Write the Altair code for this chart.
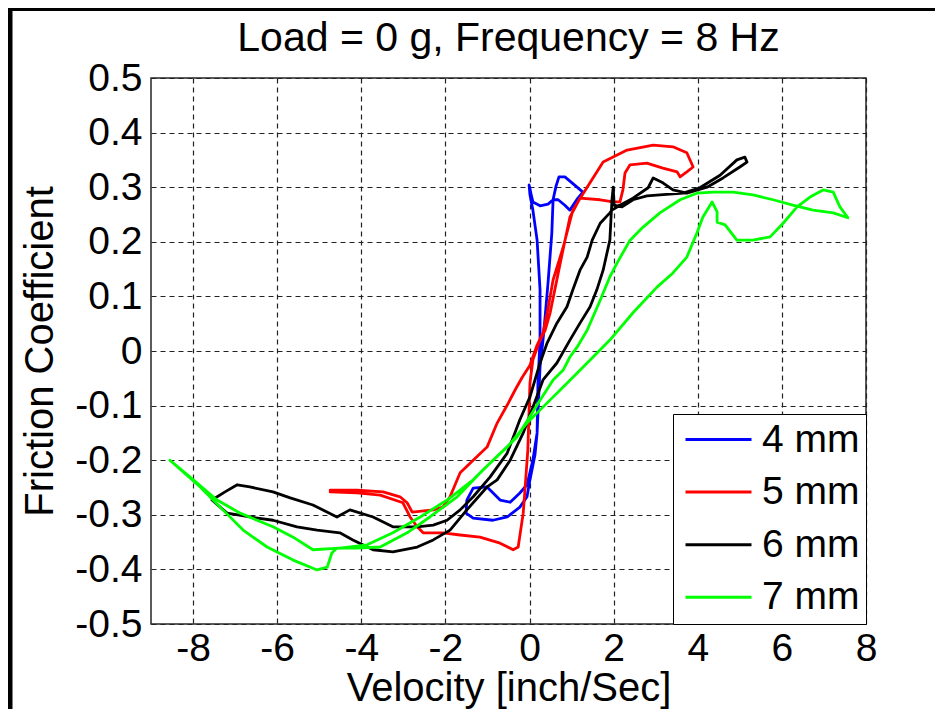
import altair as alt
import pandas as pd

series_names = ["4 mm", "5 mm", "6 mm", "7 mm"]
series_colors = ["#0000ff", "#ff0000", "#000000", "#00ff00"]

x_ticks = [-8, -6, -4, -2, 0, 2, 4, 6, 8]
y_ticks = [-0.5, -0.4, -0.3, -0.2, -0.1, 0, 0.1, 0.2, 0.3, 0.4, 0.5]

# 4 mm (blue)
v_4mm = [1.27, 1.01, 0.84, 0.70, 0.63, 0.56, 0.53, 0.44, 0.37, 0.32, 0.25, 0.18, 0.13, 0.01,
         -0.06, -0.23, -0.53, -0.87, -1.34, -1.51, -1.49, -1.34, -1.01, -0.70, -0.46, -0.23,
         -0.06, 0.08, 0.18, 0.20, 0.25, 0.25, 0.18, 0.08, 0.01, -0.01, 0.04, 0.08, 0.25, 0.44,
         0.56, 0.68, 0.84, 0.96, 1.15, 1.27]
mu_4mm = [0.291, 0.308, 0.319, 0.319, 0.302, 0.277, 0.216, 0.125, 0.062, 0.020, -0.029, -0.150,
          -0.190, -0.236, -0.267, -0.286, -0.304, -0.310, -0.306, -0.297, -0.273, -0.251, -0.249,
          -0.273, -0.277, -0.260, -0.245, -0.200, -0.150, -0.059, 0.020, 0.112, 0.203, 0.258,
          0.286, 0.304, 0.286, 0.273, 0.266, 0.269, 0.277, 0.277, 0.267, 0.258, 0.280, 0.291]

# 5 mm (red)
v_5mm = [-4.74, -4.10, -3.48, -3.08, -2.91, -2.79, -2.29, -2.06, -1.89, -1.65, -1.34, -1.01,
         -0.77, -0.53, -0.34, -0.18, 0.01, 0.18, 0.32, 0.42, 0.56, 0.80, 1.03, 1.37, 1.75, 2.32,
         2.94, 3.41, 3.74, 3.89, 3.74, 3.58, 3.51, 3.17, 2.79, 2.39, 2.27, 2.22, 2.15, 1.99,
         1.68, 1.20, 0.96, 0.73, 0.49, 0.37, 0.25, 0.08, 0.01, -0.04, -0.11, -0.15, -0.27,
         -0.39, -0.70, -1.18, -1.65, -2.06, -2.53, -2.67, -2.84, -3.01, -3.55, -4.10, -4.74]
mu_5mm = [-0.255, -0.255, -0.258, -0.267, -0.278, -0.295, -0.291, -0.286, -0.267, -0.223, -0.200,
          -0.176, -0.132, -0.099, -0.071, -0.049, -0.026, 0.011, 0.033, 0.070, 0.130, 0.190,
          0.258, 0.300, 0.346, 0.368, 0.377, 0.374, 0.363, 0.337, 0.328, 0.319, 0.328, 0.335,
          0.344, 0.341, 0.326, 0.295, 0.273, 0.273, 0.277, 0.280, 0.245, 0.161, 0.070, 0.038,
          0.020, -0.016, -0.059, -0.181, -0.255, -0.297, -0.359, -0.364, -0.352, -0.341, -0.337,
          -0.333, -0.333, -0.322, -0.304, -0.278, -0.264, -0.260, -0.258]

# 6 mm (black)
v_6mm = [5.17, 5.00, 4.60, 4.22, 3.74, 3.41, 3.17, 2.94, 2.82, 2.46, 2.15, 1.96, 1.91, 1.68,
         1.49, 1.37, 1.20, 1.03, 0.89, 0.65, 0.42, 0.25, 0.01, -0.23, -0.53, -0.94, -1.34,
         -1.65, -1.96, -2.29, -2.67, -3.25, -3.72, -4.27, -4.58, -5.15, -5.69, -6.10, -6.65,
         -6.95, -7.24, -7.55, -7.19, -6.65, -6.10, -5.53, -5.05, -4.51, -4.20, -3.72, -3.25,
         -2.67, -2.29, -1.89, -1.49, -1.01, -0.77, -0.46, -0.15, 0.08, 0.32, 0.65, 0.96, 1.20,
         1.44, 1.60, 1.75, 1.91, 1.96, 1.99, 2.01, 2.20, 2.46, 2.79, 3.10, 3.65, 4.05, 4.53,
         4.93, 5.12, 5.17]
mu_6mm = [0.346, 0.337, 0.317, 0.300, 0.289, 0.295, 0.308, 0.317, 0.299, 0.280, 0.267, 0.258,
          0.253, 0.234, 0.203, 0.172, 0.148, 0.112, 0.081, 0.051, 0.015, -0.022, -0.084, -0.126,
          -0.187, -0.231, -0.267, -0.291, -0.310, -0.319, -0.322, -0.322, -0.304, -0.291, -0.304,
          -0.282, -0.269, -0.258, -0.249, -0.245, -0.258, -0.273, -0.297, -0.304, -0.310, -0.322,
          -0.328, -0.333, -0.346, -0.364, -0.368, -0.359, -0.346, -0.328, -0.291, -0.249, -0.236,
          -0.200, -0.150, -0.103, -0.053, -0.022, 0.020, 0.051, 0.081, 0.112, 0.148, 0.203,
          0.277, 0.300, 0.267, 0.264, 0.277, 0.284, 0.286, 0.289, 0.299, 0.322, 0.350, 0.355,
          0.346]

# 7 mm (green)
v_7mm = [-8.55, -7.83, -7.29, -6.81, -6.24, -5.62, -5.05, -4.81, -4.70, -4.58, -4.10, -3.55,
         -2.91, -2.37, -1.72, -1.11, -0.53, -0.06, 0.42, 0.89, 1.37, 1.91, 2.46, 3.03, 3.41,
         3.74, 3.98, 4.12, 4.34, 4.46, 4.46, 4.65, 4.93, 5.31, 5.72, 6.03, 6.36, 6.67, 6.98,
         7.22, 7.38, 7.57, 7.22, 6.74, 6.26, 5.79, 5.31, 4.84, 4.36, 3.98, 3.58, 3.10, 2.70,
         2.39, 2.08, 1.91, 1.68, 1.37, 1.13, 0.96, 0.80, 0.56, 0.25, -0.30, -0.87, -1.34, -1.96,
         -2.60, -3.25, -3.86, -4.51, -5.15, -5.62, -6.10, -6.88, -7.43, -8.07, -8.55]
mu_7mm = [-0.200, -0.249, -0.291, -0.328, -0.359, -0.383, -0.401, -0.396, -0.370, -0.361, -0.361,
          -0.359, -0.333, -0.304, -0.267, -0.218, -0.176, -0.132, -0.095, -0.059, -0.022, 0.020,
          0.070, 0.117, 0.143, 0.172, 0.216, 0.245, 0.273, 0.255, 0.236, 0.231, 0.203, 0.203,
          0.209, 0.234, 0.264, 0.282, 0.295, 0.291, 0.264, 0.244, 0.253, 0.258, 0.267, 0.277,
          0.286, 0.291, 0.291, 0.289, 0.277, 0.253, 0.227, 0.203, 0.161, 0.136, 0.093, 0.038,
          0.007, -0.011, -0.035, -0.053, -0.090, -0.158, -0.200, -0.236, -0.273, -0.304, -0.333,
          -0.355, -0.361, -0.364, -0.341, -0.322, -0.297, -0.273, -0.231, -0.200]

all_v = [v_4mm, v_5mm, v_6mm, v_7mm]
all_mu = [mu_4mm, mu_5mm, mu_6mm, mu_7mm]

rows = []
for name, vs, ms in zip(series_names, all_v, all_mu):
    for i, (v, m) in enumerate(zip(vs, ms)):
        rows.append({"series": name, "v": v, "mu": m, "idx": i})
df = pd.DataFrame(rows)

FONT = "Liberation Sans"

lines = alt.Chart(df).mark_line(strokeWidth=2.8, strokeJoin="round", strokeCap="round").encode(
    x=alt.X("v:Q",
            scale=alt.Scale(domain=[-9, 8], nice=False, zero=False),
            axis=alt.Axis(values=x_ticks, title="Velocity [inch/Sec]",
                          labelExpr="'' + datum.value", labelPadding=5,
                          titleY=76, titleBaseline="alphabetic",
                          labelOverlap=False, labelFlush=False)),
    y=alt.Y("mu:Q",
            scale=alt.Scale(domain=[-0.5, 0.5], nice=False, zero=False),
            axis=alt.Axis(values=y_ticks, title="Friction Coefficient",
                          labelExpr="'' + datum.value", labelPadding=9,
                          titleX=-111, titleBaseline="middle",
                          labelOverlap=False, labelFlush=False)),
    color=alt.Color("series:N",
                    scale=alt.Scale(domain=series_names, range=series_colors),
                    legend=alt.Legend(title=None, orient="bottom-right", offset=0, padding=6,
                                      symbolType="M-1.833,0H1.833", symbolSize=1296,
                                      symbolStrokeWidth=3, symbolOffset=20, labelOffset=24,
                                      labelFontSize=39, labelFont=FONT, labelColor="black",
                                      rowPadding=12.6, strokeColor="black", fillColor="white",
                                      labelLimit=0)),
    order="idx:Q",
)

frame_left = alt.Chart(pd.DataFrame({"k": [0]})).mark_rule(color="black", strokeWidth=5).encode(
    x=alt.value(-141), y=alt.value(-70), y2=alt.value(631))
frame_top = alt.Chart(pd.DataFrame({"k": [0]})).mark_rule(color="black", strokeWidth=3).encode(
    y=alt.value(-68.5), x=alt.value(-143), x2=alt.value(784))

chart = alt.layer(lines, frame_left, frame_top).properties(
    width=715, height=546,
    padding={"left": 143, "top": 70, "right": 69, "bottom": 85},
    autosize=alt.AutoSizeParams(type="none"),
    background="white",
    title=alt.TitleParams("Load = 0 g, Frequency = 8 Hz", fontSize=41, font=FONT,
                          fontWeight="normal", color="black", anchor="middle",
                          baseline="alphabetic", offset=0, dy=86, frame="group"),
).configure_view(stroke="#262626", strokeWidth=1.5).configure_axis(
    domain=False, ticks=False, grid=True, gridDash=[5, 4], gridColor="#222222",
    gridWidth=1.2, gridOpacity=1, labelFontSize=39, labelFont=FONT, labelColor="black",
    titleFontSize=40, titleFont=FONT, titleFontWeight="normal", titleColor="black",
)

chart.save("out.html", embed_options={"renderer": "svg", "actions": False})
